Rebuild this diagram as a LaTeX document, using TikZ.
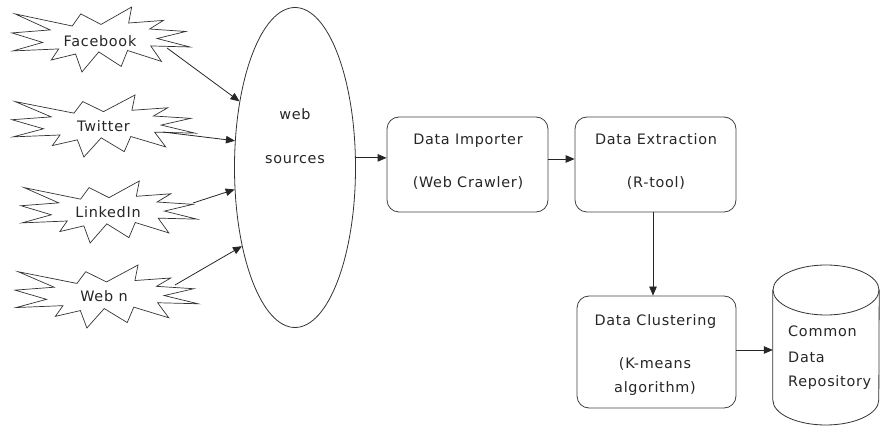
\documentclass[tikz,border=0pt]{standalone}
\usepackage{fontspec}
\setmainfont[LetterSpace=5]{DejaVu Sans}
\usetikzlibrary{shapes.geometric,arrows.meta,calc}
\newcommand\sealshape[4]{%
  \begin{scope}[shift={(#1,#2)},xscale=#3/100,yscale=#4/100]
    \draw[seal] (50,26.85) -- (67.23,0) -- (65.53,24.65) -- (85.09,20.63) -- (77.32,33.87)
      -- (97.67,37.67) -- (81.51,48.50) -- (100,61.53) -- (77.95,59.92) -- (84.00,83.77)
      -- (64.91,66.93) -- (61.33,91.38) -- (48.76,69.14) -- (39.28,100) -- (35.72,72.35)
      -- (22.05,81.56) -- (26.24,64.52) -- (0.625,67.53) -- (17.23,54.51) -- (0,39.88)
      -- (21.42,35.26) -- (1.71,10.63) -- (33.85,29.26) -- (38.67,10.63) -- cycle;
  \end{scope}}
\begin{document}
\begin{tikzpicture}[x=1pt,y=-1pt,
  lbl/.style={font=\fontsize{14.4}{16}\selectfont,text=black!85,inner sep=0pt,anchor=base},
  lblw/.style={lbl,anchor=base west},
  box/.style={draw=black!75,line width=0.8pt,rounded corners=12pt,inner sep=0pt},
  arr/.style={draw=black!85,line width=0.8pt,-{Triangle[length=9pt,width=7.5pt]}},
  seal/.style={draw=black!80,line width=0.7pt,fill=white,line join=miter}]
\useasboundingbox (0,0) rectangle (881,427);

% starbursts
\sealshape{12}{7}{178}{65}
\sealshape{12}{95}{183}{62}
\sealshape{21}{181}{176}{62}
\sealshape{15}{265}{183}{63}
\node[lbl] (fb) at (100,47) {Facebook};
\node[lbl] (tw) at (103.5,132) {Twitter};
\node[lbl] (li) at (108,218) {LinkedIn};
\node[lbl] (wn) at (104,302) {Web n};
\coordinate (fbs) at (167,48);
\coordinate (tws) at (163,132);
\coordinate (lis) at (193,203);
\coordinate (wns) at (175,285);

% web sources ellipse
\node[draw=black!80,line width=0.8pt,ellipse,minimum width=121pt,minimum height=320pt,inner sep=0pt] (ws) at (295,167.5) {};
\node[lbl] (ws1) at (295,120) {web};
\node[lbl] (ws2) at (295,164) {sources};

% boxes
\node[box,minimum width=161pt,minimum height=95pt] (imp) at (467.5,164.5) {};
\node[lbl] (imp1) at (468,144.5) {Data Importer};
\node[lbl] (imp2) at (468,187.5) {(Web Crawler)};
\node[box,minimum width=161pt,minimum height=95pt] (ext) at (655.5,164.5) {};
\node[lbl] (ext1) at (656,144.5) {Data Extraction};
\node[lbl] (ext2) at (656,187.5) {(R-tool)};
\node[box,minimum width=159pt,minimum height=112pt] (clu) at (656.5,352) {};
\node[lbl] (clu1) at (655.5,326) {Data Clustering};
\node[lbl] (clu2) at (655,369) {(K-means};
\node[lbl] (clu3) at (655,393) {algorithm)};

% cylinder
\node[minimum width=106pt,minimum height=160pt,inner sep=0pt] (cyl) at (826,345) {};
\draw[draw=black!80,line width=0.8pt]
  ($(cyl.west)+(0,-55)$) -- ($(cyl.west)+(0,55)$)
  arc[start angle=180,end angle=0,x radius=53,y radius=25]
  -- ($(cyl.east)+(0,-55)$);
\draw[draw=black!80,line width=0.8pt] ($(cyl.center)+(0,-55)$) ellipse[x radius=53,y radius=25];
\node[lblw] (cy1) at (788,337) {Common};
\node[lblw] (cy2) at (788,363) {Data};
\node[lblw] (cy3) at (788,387) {Repository};

% connectors
\draw[arr] (fbs) -- (ws.130);
\draw[arr] (tws) -- (ws.156.7);
\draw[arr] (lis) -- (ws.200.7);
\draw[arr] (wns) -- (ws.236);
\draw[arr] (ws.9) -- (ws.9 -| imp.west);
\draw[arr] ([yshift=5.5pt]imp.east) -- ([yshift=5.5pt]ext.west);
\draw[arr] ([xshift=-2.5pt]ext.south) -- ([xshift=-2.5pt]ext.south |- clu.north);
\draw[arr] ([yshift=2pt]clu.east) -- ([yshift=2pt]clu.east -| cyl.west);
\end{tikzpicture}
\end{document}
